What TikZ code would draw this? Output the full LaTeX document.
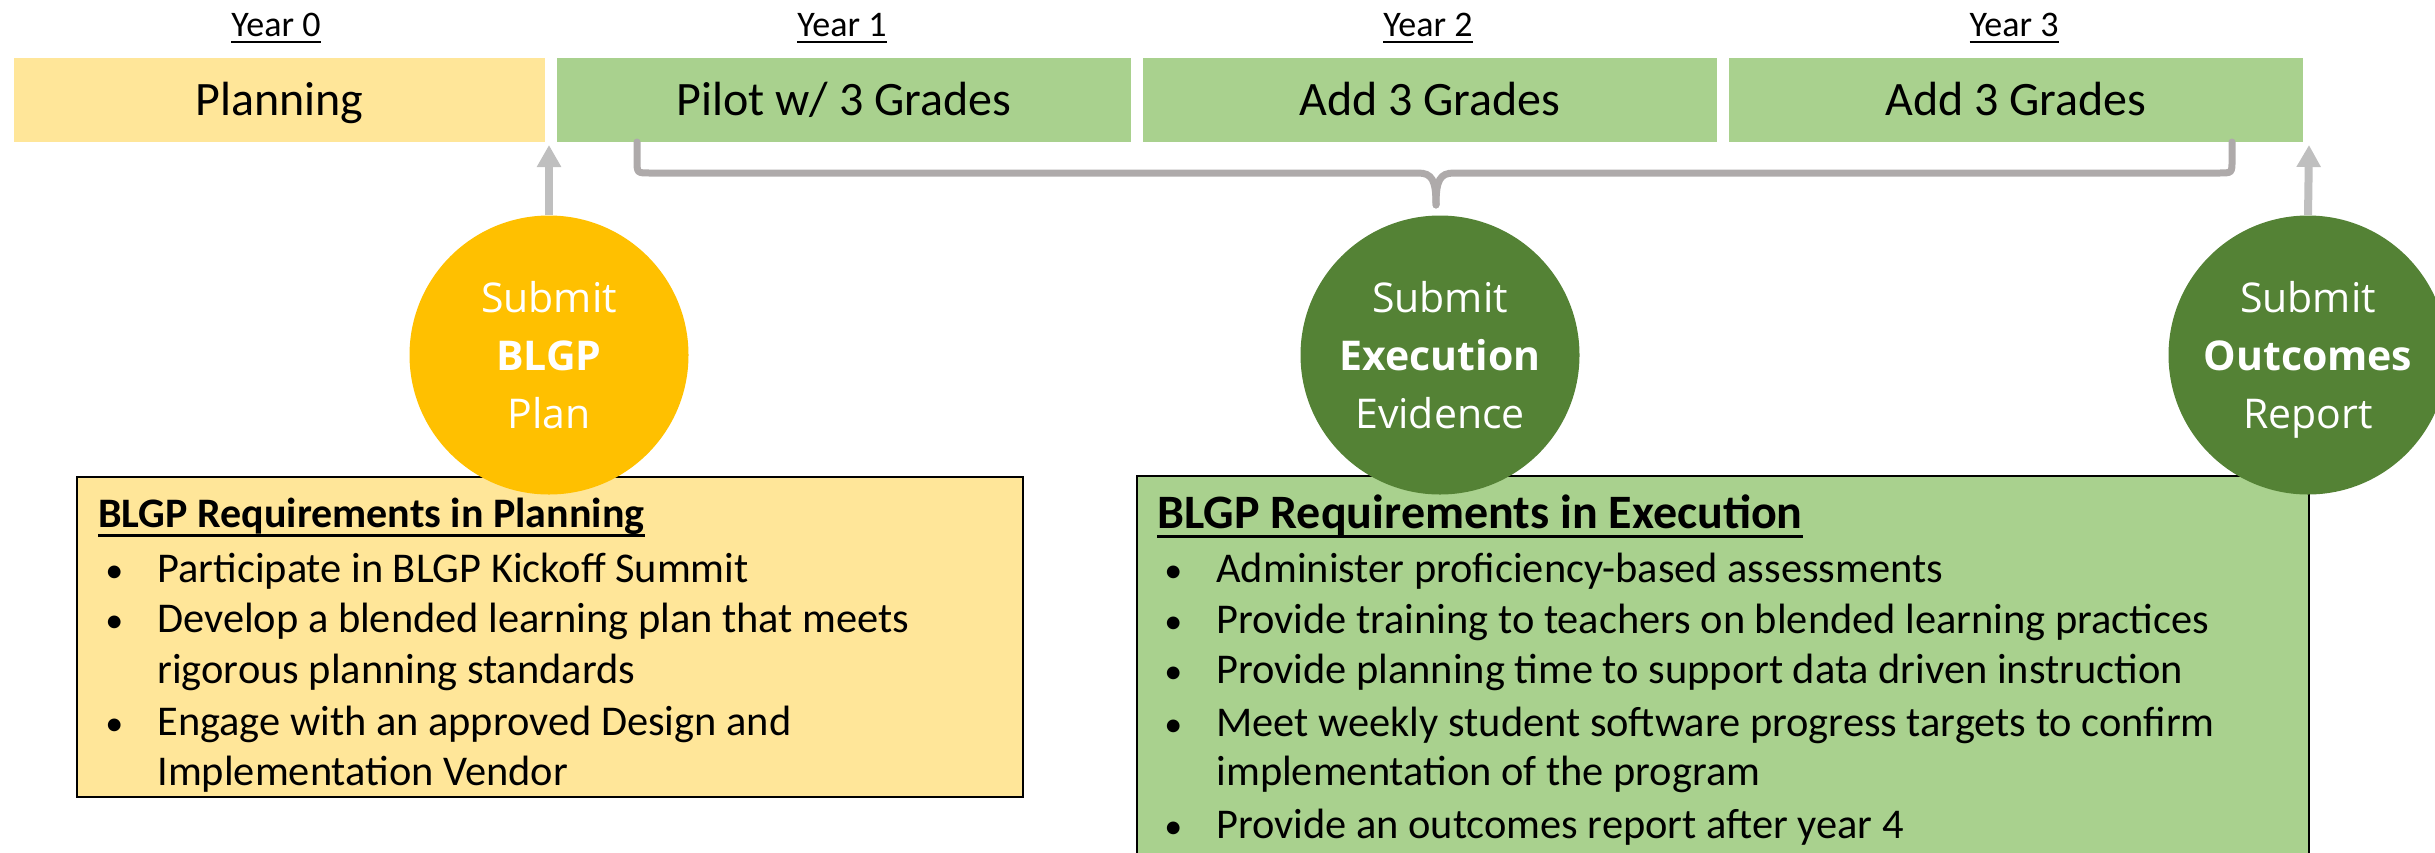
\documentclass[tikz,border=0pt]{standalone}
\usepackage{fontspec}
\setmainfont{Carlito}
\newfontfamily\circfont{Open Sans}
\usetikzlibrary{arrows.meta}
\definecolor{plany}{HTML}{FFE699}
\definecolor{greenl}{HTML}{A9D18E}
\definecolor{goldc}{HTML}{FFC000}
\definecolor{greend}{HTML}{548235}
\definecolor{arrowg}{HTML}{BFBFBF}
\definecolor{braceg}{HTML}{AEAAAA}
\newcommand\headul[1]{\setbox0\hbox{#1}\rlap{\rule[-5pt]{\wd0}{1.5pt}}\box0}
\newcommand\yearul[1]{\setbox0\hbox{#1}\rlap{\rule[-3.5pt]{\wd0}{1pt}}\box0}
\begin{document}
\begin{tikzpicture}[x=0.5pt,y=-0.5pt,
  phase/.style={minimum width=287pt, minimum height=42pt, inner sep=0pt, text height=18pt, text depth=3pt, font=\fontsize{24}{28}\selectfont, fill=greenl},
  yearlbl/.style={anchor=base, inner sep=0pt, font=\fontsize{18}{22}\selectfont},
  milestone/.style={circle, minimum size=139.5pt, inner sep=0pt, text=white, align=center, font=\circfont\fontsize{20.5}{29}\selectfont},
  reqbox/.style={draw=black, line width=1pt, inner sep=0pt},
  reqtext/.style={anchor=base west, inner sep=0pt, font=\fontsize{21.2}{25}\selectfont},
  reqbullet/.style={anchor=base west, inner sep=0pt, font=\fontsize{18}{22}\selectfont},
  reqhead/.style={anchor=base west, inner sep=0pt, font=\fontsize{21}{25}\selectfont\bfseries},
  uparrow/.style={draw=arrowg, line width=4pt, -{Triangle[width=11.5pt,length=11pt]}},
  bracegray/.style={draw=braceg, line width=3.5pt, line cap=round}]
\useasboundingbox (0,0) rectangle (2435,852);

% phases
\node[phase, fill=plany, minimum width=265.5pt] (plan) at (279.5,100) {Planning};
\node[phase] (pilot) at (844,100) {Pilot w/ 3 Grades};
\node[phase] (add1) at (1430,100) {Add 3 Grades};
\node[phase] (add2) at (2016,100) {Add 3 Grades};

% year labels
\node[yearlbl] (y0) at (276,36) {\yearul{Year 0}};
\node[yearlbl] (y1) at (842,36) {\yearul{Year 1}};
\node[yearlbl] (y2) at (1428,36) {\yearul{Year 2}};
\node[yearlbl] (y3) at (2014,36) {\yearul{Year 3}};

% brace
\coordinate (bl) at (637,142);
\coordinate (br) at (2232,142);
\coordinate (btip) at (1436,205);
\draw[bracegray] (bl) -- (637,160) .. controls (637,173) .. (650,173) -- (1418,173) .. controls (1432,173) and (1436,180) .. (btip);
\draw[bracegray] (br) -- (2232,160) .. controls (2232,173) .. (2219,173) -- (1454,173) .. controls (1440,173) and (1436,180) .. (btip);

% requirement boxes
\node[reqbox, fill=plany, minimum width=473pt, minimum height=160pt] (req1) at (550,637) {};
\node[reqbox, fill=greenl, minimum width=586pt, minimum height=197pt] (req2) at (1723,673) {};

% planning text
\node[reqhead] (ph) at (98,527) {\headul{BLGP Requirements in Planning}};
\node[reqbullet] (pb1) at (105,582) {•};
\node[reqtext] (pt1) at (157,582) {Participate in BLGP Kickoff Summit};
\node[reqbullet] (pb2) at (105,632) {•};
\node[reqtext] (pt2) at (157,632) {Develop a blended learning plan that meets};
\node[reqtext] (pt3) at (157,683) {rigorous planning standards};
\node[reqbullet] (pb4) at (105,735) {•};
\node[reqtext] (pt4) at (157,735) {Engage with an approved Design and};
\node[reqtext] (pt5) at (157,785) {Implementation Vendor};

% execution text
\node[reqhead, font=\fontsize{24}{28}\selectfont\bfseries] (eh) at (1157,528) {\headul{BLGP Requirements in Execution}};
\node[reqbullet] (eb1) at (1164,582) {•};
\node[reqtext] (et1) at (1216,582) {Administer proficiency-based assessments};
\node[reqbullet] (eb2) at (1164,633) {•};
\node[reqtext] (et2) at (1216,633) {Provide training to teachers on blended learning practices};
\node[reqbullet] (eb3) at (1164,683) {•};
\node[reqtext] (et3) at (1216,683) {Provide planning time to support data driven instruction};
\node[reqbullet] (eb4) at (1164,736) {•};
\node[reqtext] (et4) at (1216,736) {Meet weekly student software progress targets to confirm};
\node[reqtext] (et5) at (1216,785) {implementation of the program};
\node[reqbullet] (eb6) at (1164,838) {•};
\node[reqtext] (et6) at (1216,838) {Provide an outcomes report after year 4};

% milestones
\node[milestone, fill=goldc] (m1) at (549,355) {Submit\\\textbf{BLGP}\\Plan};
\node[milestone, fill=greend] (m2) at (1440,355) {Submit\\\textbf{Execution}\\Evidence};
\node[milestone, fill=greend] (m3) at (2308,355) {Submit\\\textbf{Outcomes}\\\smash{Report}};

% arrows
\coordinate (a1) at (549,145);
\coordinate (a3) at (2309,145);
\draw[uparrow] (m1.north) -- (a1);
\draw[uparrow] (m3.north) -- (a3);
\end{tikzpicture}
\end{document}
